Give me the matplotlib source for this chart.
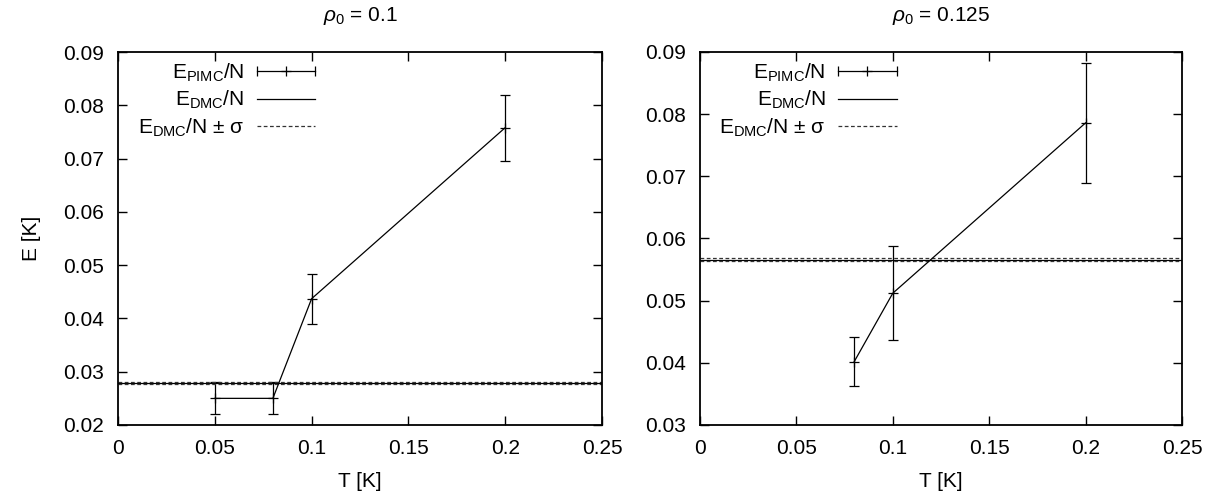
import matplotlib
matplotlib.use("Agg")
import matplotlib.pyplot as plt
from matplotlib.lines import Line2D
from matplotlib.legend_handler import HandlerLine2D, HandlerTuple
from matplotlib.ticker import FuncFormatter

plt.rcParams['font.family'] = ['Liberation Sans', 'DejaVu Sans']
plt.rcParams['mathtext.fontset'] = 'custom'
plt.rcParams['mathtext.rm'] = 'Liberation Sans'
plt.rcParams['mathtext.it'] = 'Liberation Sans:italic'
plt.rcParams['mathtext.bf'] = 'Liberation Sans:bold'

# ---- data ----
titles = [r'$\rho_0$ = 0.1', r'$\rho_0$ = 0.125']

T_left = [0.05, 0.08, 0.1, 0.2]
E_left = [0.0250, 0.0250, 0.0437, 0.0758]
err_left = [0.0030, 0.0030, 0.0047, 0.0062]
dmc_left = 0.0279
sig_left = 0.0002

T_right = [0.08, 0.1, 0.2]
E_right = [0.0402, 0.0512, 0.0786]
err_right = [0.0040, 0.0076, 0.0097]
dmc_right = 0.0566
sig_right = 0.0002

xticks = [0, 0.05, 0.1, 0.15, 0.2, 0.25]
yticks_left = [0.02, 0.03, 0.04, 0.05, 0.06, 0.07, 0.08, 0.09]
yticks_right = [0.03, 0.04, 0.05, 0.06, 0.07, 0.08, 0.09]

labels = [r'$\mathrm{E_{PIMC}/N}$', r'$\mathrm{E_{DMC}/N}$', r'$\mathrm{E_{DMC}/N}$ ± σ']

FS = 15
fig = plt.figure(figsize=(12.19, 4.96), dpi=100)
W, H = 1219, 496
ax1 = fig.add_axes([118 / W, (H - 425) / H, (602 - 118) / W, (425 - 52) / H])
ax2 = fig.add_axes([700 / W, (H - 425) / H, (1182 - 700) / W, (425 - 52) / H])


def fmt(v, pos):
    return '%g' % round(v, 6)


def draw(ax, T, E, err, dmc, sig, yticks, title, ylabel):
    ax.errorbar(T, E, yerr=err, color='black', lw=0.9, elinewidth=0.9,
                capsize=3.5, capthick=0.9, marker='+', ms=7, mew=0.9)
    ax.axhline(dmc, color='black', lw=0.9)
    ax.axhline(dmc + sig, color='#333333', lw=0.9, ls=(0, (3, 2)))
    ax.axhline(dmc - sig, color='#333333', lw=0.9, ls=(0, (3, 2)))
    ax.set_xlim(0, 0.25)
    ax.set_ylim(yticks[0], yticks[-1])
    ax.set_xticks(xticks)
    ax.set_yticks(yticks)
    ax.xaxis.set_major_formatter(FuncFormatter(fmt))
    ax.yaxis.set_major_formatter(FuncFormatter(fmt))
    ax.tick_params(direction='in', length=6.5, width=1.0, top=True, right=True,
                   labelsize=FS, pad=10)
    for s in ax.spines.values():
        s.set_linewidth(1.3)
    ax.set_xlabel('T [K]', fontsize=FS, labelpad=10)
    if ylabel:
        ax.set_ylabel(ylabel, fontsize=FS, labelpad=16)
    ax.set_title(title, fontsize=FS, pad=22)

    caps = Line2D([], [], color='black', lw=0.9, marker='|', ms=7, mew=0.9)
    plus = Line2D([], [], color='black', lw=0, marker='+', ms=7, mew=0.9)
    solid = Line2D([], [], color='black', lw=0.9)
    dashed = Line2D([], [], color='#333333', lw=0.9, ls=(0, (3, 2)))
    hmap = {tuple: HandlerTuple(ndivide=1, pad=0),
            caps: HandlerLine2D(numpoints=2, marker_pad=0),
            plus: HandlerLine2D(numpoints=1)}
    ax.legend([(caps, plus), solid, dashed], labels, loc='upper right',
              frameon=False, markerfirst=False, fontsize=FS,
              handlelength=2.8, handletextpad=0.6, labelspacing=0.25,
              borderaxespad=0, borderpad=0, handler_map=hmap,
              bbox_to_anchor=(0.408, 0.975))


draw(ax1, T_left, E_left, err_left, dmc_left, sig_left, yticks_left, titles[0], 'E [K]')
draw(ax2, T_right, E_right, err_right, dmc_right, sig_right, yticks_right, titles[1], None)

fig.savefig('out.png', dpi=100)
